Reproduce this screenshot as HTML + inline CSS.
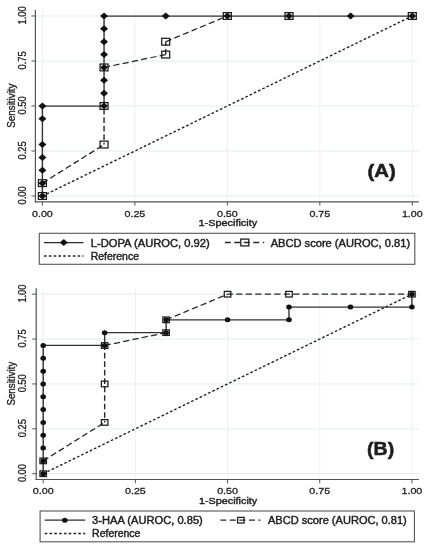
<!DOCTYPE html>
<html><head><meta charset="utf-8"><style>
html,body{margin:0;padding:0;background:#fff;}
svg{display:block;}
text{font-family:"Liberation Sans", Arial, sans-serif;fill:#1e1e1e;stroke:#1e1e1e;stroke-width:0.42px;}
text.tk{stroke-width:0.3px;}
</style></head><body>
<svg width="428" height="550" viewBox="0 0 428 550">
<rect width="428" height="550" fill="#fff"/>
<line x1="36" y1="196" x2="418.8" y2="196" stroke="#e4eeec"/>
<line x1="42.4" y1="10" x2="42.4" y2="201.3" stroke="#ecf1f3"/>
<line x1="36" y1="151" x2="418.8" y2="151" stroke="#e4eeec"/>
<line x1="134.88" y1="10" x2="134.88" y2="201.3" stroke="#ecf1f3"/>
<line x1="36" y1="106" x2="418.8" y2="106" stroke="#e4eeec"/>
<line x1="227.35" y1="10" x2="227.35" y2="201.3" stroke="#ecf1f3"/>
<line x1="36" y1="61" x2="418.8" y2="61" stroke="#e4eeec"/>
<line x1="319.82" y1="10" x2="319.82" y2="201.3" stroke="#ecf1f3"/>
<line x1="36" y1="16" x2="418.8" y2="16" stroke="#e4eeec"/>
<line x1="412.3" y1="10" x2="412.3" y2="201.3" stroke="#ecf1f3"/>
<line x1="35.4" y1="10" x2="35.4" y2="202.5" stroke="#555" stroke-width="1.2"/>
<line x1="34.8" y1="201.9" x2="418.8" y2="201.9" stroke="#555" stroke-width="1.2"/>
<line x1="31.4" y1="196" x2="35.4" y2="196" stroke="#555" stroke-width="1"/>
<line x1="42.4" y1="201.9" x2="42.4" y2="205.7" stroke="#555" stroke-width="1"/>
<line x1="31.4" y1="151" x2="35.4" y2="151" stroke="#555" stroke-width="1"/>
<line x1="134.88" y1="201.9" x2="134.88" y2="205.7" stroke="#555" stroke-width="1"/>
<line x1="31.4" y1="106" x2="35.4" y2="106" stroke="#555" stroke-width="1"/>
<line x1="227.35" y1="201.9" x2="227.35" y2="205.7" stroke="#555" stroke-width="1"/>
<line x1="31.4" y1="61" x2="35.4" y2="61" stroke="#555" stroke-width="1"/>
<line x1="319.82" y1="201.9" x2="319.82" y2="205.7" stroke="#555" stroke-width="1"/>
<line x1="31.4" y1="16" x2="35.4" y2="16" stroke="#555" stroke-width="1"/>
<line x1="412.3" y1="201.9" x2="412.3" y2="205.7" stroke="#555" stroke-width="1"/>
<text class="tk" x="32" y="216.7" font-size="9.7" textLength="20.8" lengthAdjust="spacingAndGlyphs">0.00</text>
<text class="tk" transform="translate(25.8,204.4) rotate(-90) scale(1,1.1)" x="0" y="0" font-size="9.2" textLength="18" lengthAdjust="spacingAndGlyphs">0.00</text>
<text class="tk" x="124.47" y="216.7" font-size="9.7" textLength="20.8" lengthAdjust="spacingAndGlyphs">0.25</text>
<text class="tk" transform="translate(25.8,159.4) rotate(-90) scale(1,1.1)" x="0" y="0" font-size="9.2" textLength="18" lengthAdjust="spacingAndGlyphs">0.25</text>
<text class="tk" x="216.95" y="216.7" font-size="9.7" textLength="20.8" lengthAdjust="spacingAndGlyphs">0.50</text>
<text class="tk" transform="translate(25.8,114.4) rotate(-90) scale(1,1.1)" x="0" y="0" font-size="9.2" textLength="18" lengthAdjust="spacingAndGlyphs">0.50</text>
<text class="tk" x="309.43" y="216.7" font-size="9.7" textLength="20.8" lengthAdjust="spacingAndGlyphs">0.75</text>
<text class="tk" transform="translate(25.8,69.4) rotate(-90) scale(1,1.1)" x="0" y="0" font-size="9.2" textLength="18" lengthAdjust="spacingAndGlyphs">0.75</text>
<text class="tk" x="401.9" y="216.7" font-size="9.7" textLength="20.8" lengthAdjust="spacingAndGlyphs">1.00</text>
<text class="tk" transform="translate(25.8,24.4) rotate(-90) scale(1,1.1)" x="0" y="0" font-size="9.2" textLength="18" lengthAdjust="spacingAndGlyphs">1.00</text>
<text class="tk" transform="translate(14.6,127.8) rotate(-90) scale(1,1.18)" x="0" y="0" font-size="9.6" textLength="44.3" lengthAdjust="spacingAndGlyphs">Sensitivity</text>
<text x="198.5" y="225.7" font-size="9.9" textLength="58.7" lengthAdjust="spacingAndGlyphs">1-Specificity</text>
<g transform="scale(1.12,1)">
<line x1="37.86" y1="196" x2="368.12" y2="16" stroke="#222" stroke-width="1.35" stroke-dasharray="2.4 1.9"/>
<line x1="37.86" y1="183.14" x2="92.9" y2="144.57" stroke="#262626" stroke-width="1.25" stroke-dasharray="5.6 2.9" stroke-dashoffset="0"/>
<line x1="92.9" y1="144.57" x2="92.9" y2="106" stroke="#262626" stroke-width="1.25" stroke-dasharray="5.6 2.9" stroke-dashoffset="3.9"/>
<line x1="92.9" y1="67.43" x2="147.95" y2="54.57" stroke="#262626" stroke-width="1.25" stroke-dasharray="5.6 2.9" stroke-dashoffset="0"/>
<line x1="147.95" y1="54.57" x2="147.95" y2="41.71" stroke="#262626" stroke-width="1.25" stroke-dasharray="5.6 2.9" stroke-dashoffset="0"/>
<line x1="147.95" y1="41.71" x2="202.99" y2="16" stroke="#262626" stroke-width="1.25" stroke-dasharray="5.6 2.9" stroke-dashoffset="0"/>
<polyline points="37.86,196 37.86,106 92.9,106 92.9,16 368.12,16" fill="none" stroke="#333" stroke-width="1.25"/>
</g>
<polygon points="42.4,192.5 46.4,196 42.4,199.5 38.4,196" fill="#111"/>
<polygon points="42.4,179.64 46.4,183.14 42.4,186.64 38.4,183.14" fill="#111"/>
<polygon points="42.4,166.79 46.4,170.29 42.4,173.79 38.4,170.29" fill="#111"/>
<polygon points="42.4,153.93 46.4,157.43 42.4,160.93 38.4,157.43" fill="#111"/>
<polygon points="42.4,141.07 46.4,144.57 42.4,148.07 38.4,144.57" fill="#111"/>
<polygon points="42.4,115.36 46.4,118.86 42.4,122.36 38.4,118.86" fill="#111"/>
<polygon points="42.4,102.5 46.4,106 42.4,109.5 38.4,106" fill="#111"/>
<polygon points="104.05,102.5 108.05,106 104.05,109.5 100.05,106" fill="#111"/>
<polygon points="104.05,89.64 108.05,93.14 104.05,96.64 100.05,93.14" fill="#111"/>
<polygon points="104.05,76.79 108.05,80.29 104.05,83.79 100.05,80.29" fill="#111"/>
<polygon points="104.05,63.93 108.05,67.43 104.05,70.93 100.05,67.43" fill="#111"/>
<polygon points="104.05,51.07 108.05,54.57 104.05,58.07 100.05,54.57" fill="#111"/>
<polygon points="104.05,38.21 108.05,41.71 104.05,45.21 100.05,41.71" fill="#111"/>
<polygon points="104.05,25.36 108.05,28.86 104.05,32.36 100.05,28.86" fill="#111"/>
<polygon points="104.05,12.5 108.05,16 104.05,19.5 100.05,16" fill="#111"/>
<polygon points="165.7,12.5 169.7,16 165.7,19.5 161.7,16" fill="#111"/>
<polygon points="227.35,12.5 231.35,16 227.35,19.5 223.35,16" fill="#111"/>
<polygon points="289,12.5 293,16 289,19.5 285,16" fill="#111"/>
<polygon points="350.65,12.5 354.65,16 350.65,19.5 346.65,16" fill="#111"/>
<polygon points="412.3,12.5 416.3,16 412.3,19.5 408.3,16" fill="#111"/>
<rect x="38.4" y="192.6" width="8" height="6.8" fill="none" stroke="#1a1a1a" stroke-width="1.25"/>
<rect x="38.4" y="179.74" width="8" height="6.8" fill="none" stroke="#1a1a1a" stroke-width="1.25"/>
<rect x="100.05" y="141.17" width="8" height="6.8" fill="none" stroke="#1a1a1a" stroke-width="1.25"/>
<rect x="100.05" y="102.6" width="8" height="6.8" fill="none" stroke="#1a1a1a" stroke-width="1.25"/>
<rect x="100.05" y="64.03" width="8" height="6.8" fill="none" stroke="#1a1a1a" stroke-width="1.25"/>
<rect x="161.7" y="51.17" width="8" height="6.8" fill="none" stroke="#1a1a1a" stroke-width="1.25"/>
<rect x="161.7" y="38.31" width="8" height="6.8" fill="none" stroke="#1a1a1a" stroke-width="1.25"/>
<rect x="223.35" y="12.6" width="8" height="6.8" fill="none" stroke="#1a1a1a" stroke-width="1.25"/>
<rect x="285" y="12.6" width="8" height="6.8" fill="none" stroke="#1a1a1a" stroke-width="1.25"/>
<rect x="408.3" y="12.6" width="8" height="6.8" fill="none" stroke="#1a1a1a" stroke-width="1.25"/>
<text x="367.4" y="177" font-size="18.8" textLength="28.3" lengthAdjust="spacingAndGlyphs" font-weight="bold" style="stroke-width:0.55px">(A)</text>
<rect x="39.3" y="233.3" width="375.5" height="31" fill="none" stroke="#555" stroke-width="1.1"/>
<line x1="44" y1="242.5" x2="83.5" y2="242.5" stroke="#2a2a2a" stroke-width="1.25"/>
<polygon points="63.8,239 67.8,242.5 63.8,246 59.8,242.5" fill="#111"/>
<line x1="44" y1="255.9" x2="83.5" y2="255.9" stroke="#222" stroke-width="1.5" stroke-dasharray="2.6 2.2"/>
<text x="90.7" y="246.8" font-size="10" textLength="119.1" lengthAdjust="spacingAndGlyphs">L-DOPA (AUROC, 0.92)</text>
<text x="90.7" y="259.9" font-size="10" textLength="48.3" lengthAdjust="spacingAndGlyphs">Reference</text>
<line x1="224.8" y1="242.5" x2="264.2" y2="242.5" stroke="#262626" stroke-width="1.3" stroke-dasharray="6 3.5"/>
<rect x="240.8" y="239.1" width="8" height="6.8" fill="none" stroke="#1a1a1a" stroke-width="1.25"/>
<text x="270.7" y="246.8" font-size="10" textLength="139.4" lengthAdjust="spacingAndGlyphs">ABCD score (AUROC, 0.81)</text>
<line x1="36.8" y1="473.7" x2="419" y2="473.7" stroke="#e4eeec"/>
<line x1="43.2" y1="288.3" x2="43.2" y2="478.9" stroke="#ecf1f3"/>
<line x1="36.8" y1="428.82" x2="419" y2="428.82" stroke="#e4eeec"/>
<line x1="135.38" y1="288.3" x2="135.38" y2="478.9" stroke="#ecf1f3"/>
<line x1="36.8" y1="383.95" x2="419" y2="383.95" stroke="#e4eeec"/>
<line x1="227.55" y1="288.3" x2="227.55" y2="478.9" stroke="#ecf1f3"/>
<line x1="36.8" y1="339.07" x2="419" y2="339.07" stroke="#e4eeec"/>
<line x1="319.72" y1="288.3" x2="319.72" y2="478.9" stroke="#ecf1f3"/>
<line x1="36.8" y1="294.2" x2="419" y2="294.2" stroke="#e4eeec"/>
<line x1="411.9" y1="288.3" x2="411.9" y2="478.9" stroke="#ecf1f3"/>
<line x1="36.2" y1="288.3" x2="36.2" y2="480.1" stroke="#555" stroke-width="1.2"/>
<line x1="35.6" y1="479.5" x2="419" y2="479.5" stroke="#555" stroke-width="1.2"/>
<line x1="32.2" y1="473.7" x2="36.2" y2="473.7" stroke="#555" stroke-width="1"/>
<line x1="43.2" y1="479.5" x2="43.2" y2="483.3" stroke="#555" stroke-width="1"/>
<line x1="32.2" y1="428.82" x2="36.2" y2="428.82" stroke="#555" stroke-width="1"/>
<line x1="135.38" y1="479.5" x2="135.38" y2="483.3" stroke="#555" stroke-width="1"/>
<line x1="32.2" y1="383.95" x2="36.2" y2="383.95" stroke="#555" stroke-width="1"/>
<line x1="227.55" y1="479.5" x2="227.55" y2="483.3" stroke="#555" stroke-width="1"/>
<line x1="32.2" y1="339.07" x2="36.2" y2="339.07" stroke="#555" stroke-width="1"/>
<line x1="319.72" y1="479.5" x2="319.72" y2="483.3" stroke="#555" stroke-width="1"/>
<line x1="32.2" y1="294.2" x2="36.2" y2="294.2" stroke="#555" stroke-width="1"/>
<line x1="411.9" y1="479.5" x2="411.9" y2="483.3" stroke="#555" stroke-width="1"/>
<text class="tk" x="32.8" y="494.4" font-size="9.7" textLength="20.8" lengthAdjust="spacingAndGlyphs">0.00</text>
<text class="tk" transform="translate(26.4,482.1) rotate(-90) scale(1,1.1)" x="0" y="0" font-size="9.2" textLength="18" lengthAdjust="spacingAndGlyphs">0.00</text>
<text class="tk" x="124.97" y="494.4" font-size="9.7" textLength="20.8" lengthAdjust="spacingAndGlyphs">0.25</text>
<text class="tk" transform="translate(26.4,437.22) rotate(-90) scale(1,1.1)" x="0" y="0" font-size="9.2" textLength="18" lengthAdjust="spacingAndGlyphs">0.25</text>
<text class="tk" x="217.15" y="494.4" font-size="9.7" textLength="20.8" lengthAdjust="spacingAndGlyphs">0.50</text>
<text class="tk" transform="translate(26.4,392.35) rotate(-90) scale(1,1.1)" x="0" y="0" font-size="9.2" textLength="18" lengthAdjust="spacingAndGlyphs">0.50</text>
<text class="tk" x="309.32" y="494.4" font-size="9.7" textLength="20.8" lengthAdjust="spacingAndGlyphs">0.75</text>
<text class="tk" transform="translate(26.4,347.47) rotate(-90) scale(1,1.1)" x="0" y="0" font-size="9.2" textLength="18" lengthAdjust="spacingAndGlyphs">0.75</text>
<text class="tk" x="401.5" y="494.4" font-size="9.7" textLength="20.8" lengthAdjust="spacingAndGlyphs">1.00</text>
<text class="tk" transform="translate(26.4,302.6) rotate(-90) scale(1,1.1)" x="0" y="0" font-size="9.2" textLength="18" lengthAdjust="spacingAndGlyphs">1.00</text>
<text class="tk" transform="translate(15.3,405.6) rotate(-90) scale(1,1.18)" x="0" y="0" font-size="9.6" textLength="44" lengthAdjust="spacingAndGlyphs">Sensitivity</text>
<text x="199" y="503.6" font-size="9.9" textLength="58.2" lengthAdjust="spacingAndGlyphs">1-Specificity</text>
<g transform="scale(1.12,1)">
<line x1="38.57" y1="473.7" x2="367.77" y2="294.2" stroke="#222" stroke-width="1.35" stroke-dasharray="2.4 1.9"/>
<line x1="38.57" y1="460.88" x2="93.44" y2="422.41" stroke="#262626" stroke-width="1.25" stroke-dasharray="5.6 2.9" stroke-dashoffset="0"/>
<line x1="93.44" y1="422.41" x2="93.44" y2="383.95" stroke="#262626" stroke-width="1.25" stroke-dasharray="5.6 2.9" stroke-dashoffset="3.9"/>
<line x1="93.44" y1="383.95" x2="93.44" y2="345.49" stroke="#262626" stroke-width="1.25" stroke-dasharray="5.6 2.9" stroke-dashoffset="0"/>
<line x1="93.44" y1="345.49" x2="148.3" y2="332.66" stroke="#262626" stroke-width="1.25" stroke-dasharray="5.6 2.9" stroke-dashoffset="0"/>
<line x1="148.3" y1="319.84" x2="203.17" y2="294.2" stroke="#262626" stroke-width="1.25" stroke-dasharray="5.6 2.9" stroke-dashoffset="0"/>
<line x1="203.17" y1="294.2" x2="258.04" y2="294.2" stroke="#262626" stroke-width="1.25" stroke-dasharray="5.6 2.9" stroke-dashoffset="0.78"/>
<line x1="258.04" y1="294.2" x2="367.77" y2="294.2" stroke="#262626" stroke-width="1.25" stroke-dasharray="5.6 2.9" stroke-dashoffset="4.75"/>
<polyline points="38.57,473.7 38.57,345.49 93.44,345.49 93.44,332.66 148.3,332.66 148.3,319.84 258.04,319.84 258.04,307.02 367.77,307.02 367.77,294.2" fill="none" stroke="#333" stroke-width="1.25"/>
</g>
<ellipse cx="43.2" cy="473.7" rx="2.8" ry="2.5" fill="#111"/>
<ellipse cx="43.2" cy="460.88" rx="2.8" ry="2.5" fill="#111"/>
<ellipse cx="43.2" cy="448.06" rx="2.8" ry="2.5" fill="#111"/>
<ellipse cx="43.2" cy="435.24" rx="2.8" ry="2.5" fill="#111"/>
<ellipse cx="43.2" cy="422.41" rx="2.8" ry="2.5" fill="#111"/>
<ellipse cx="43.2" cy="409.59" rx="2.8" ry="2.5" fill="#111"/>
<ellipse cx="43.2" cy="396.77" rx="2.8" ry="2.5" fill="#111"/>
<ellipse cx="43.2" cy="383.95" rx="2.8" ry="2.5" fill="#111"/>
<ellipse cx="43.2" cy="371.13" rx="2.8" ry="2.5" fill="#111"/>
<ellipse cx="43.2" cy="358.31" rx="2.8" ry="2.5" fill="#111"/>
<ellipse cx="43.2" cy="345.49" rx="2.8" ry="2.5" fill="#111"/>
<ellipse cx="104.65" cy="345.49" rx="2.8" ry="2.5" fill="#111"/>
<ellipse cx="104.65" cy="332.66" rx="2.8" ry="2.5" fill="#111"/>
<ellipse cx="166.1" cy="332.66" rx="2.8" ry="2.5" fill="#111"/>
<ellipse cx="166.1" cy="319.84" rx="2.8" ry="2.5" fill="#111"/>
<ellipse cx="227.55" cy="319.84" rx="2.8" ry="2.5" fill="#111"/>
<ellipse cx="289" cy="319.84" rx="2.8" ry="2.5" fill="#111"/>
<ellipse cx="289" cy="307.02" rx="2.8" ry="2.5" fill="#111"/>
<ellipse cx="350.45" cy="307.02" rx="2.8" ry="2.5" fill="#111"/>
<ellipse cx="411.9" cy="307.02" rx="2.8" ry="2.5" fill="#111"/>
<ellipse cx="411.9" cy="294.2" rx="2.8" ry="2.5" fill="#111"/>
<rect x="39.95" y="470.9" width="6.5" height="5.6" fill="none" stroke="#1a1a1a" stroke-width="1.25"/>
<rect x="39.95" y="458.08" width="6.5" height="5.6" fill="none" stroke="#1a1a1a" stroke-width="1.25"/>
<rect x="101.4" y="419.61" width="6.5" height="5.6" fill="none" stroke="#1a1a1a" stroke-width="1.25"/>
<rect x="101.4" y="381.15" width="6.5" height="5.6" fill="none" stroke="#1a1a1a" stroke-width="1.25"/>
<rect x="101.4" y="342.69" width="6.5" height="5.6" fill="none" stroke="#1a1a1a" stroke-width="1.25"/>
<rect x="162.85" y="329.86" width="6.5" height="5.6" fill="none" stroke="#1a1a1a" stroke-width="1.25"/>
<rect x="162.85" y="317.04" width="6.5" height="5.6" fill="none" stroke="#1a1a1a" stroke-width="1.25"/>
<rect x="224.3" y="291.4" width="6.5" height="5.6" fill="none" stroke="#1a1a1a" stroke-width="1.25"/>
<rect x="285.75" y="291.4" width="6.5" height="5.6" fill="none" stroke="#1a1a1a" stroke-width="1.25"/>
<rect x="408.65" y="291.4" width="6.5" height="5.6" fill="none" stroke="#1a1a1a" stroke-width="1.25"/>
<text x="367.1" y="455.2" font-size="18.8" textLength="27.1" lengthAdjust="spacingAndGlyphs" font-weight="bold" style="stroke-width:0.55px">(B)</text>
<rect x="40.1" y="511" width="374.3" height="30.8" fill="none" stroke="#555" stroke-width="1.1"/>
<line x1="44.7" y1="520.2" x2="85.2" y2="520.2" stroke="#2a2a2a" stroke-width="1.25"/>
<ellipse cx="64.8" cy="520.2" rx="2.8" ry="2.5" fill="#111"/>
<line x1="44.7" y1="533.4" x2="85.2" y2="533.4" stroke="#222" stroke-width="1.5" stroke-dasharray="2.6 2.2"/>
<text x="92.1" y="523.9" font-size="10" textLength="110.7" lengthAdjust="spacingAndGlyphs">3-HAA (AUROC, 0.85)</text>
<text x="92.1" y="536.9" font-size="10" textLength="48.3" lengthAdjust="spacingAndGlyphs">Reference</text>
<line x1="220.4" y1="520.2" x2="260.4" y2="520.2" stroke="#262626" stroke-width="1.3" stroke-dasharray="6 3.5"/>
<rect x="237.65" y="517.4" width="6.5" height="5.6" fill="none" stroke="#1a1a1a" stroke-width="1.25"/>
<text x="268" y="523.9" font-size="10" textLength="138.8" lengthAdjust="spacingAndGlyphs">ABCD score (AUROC, 0.81)</text>
</svg>
</body></html>
